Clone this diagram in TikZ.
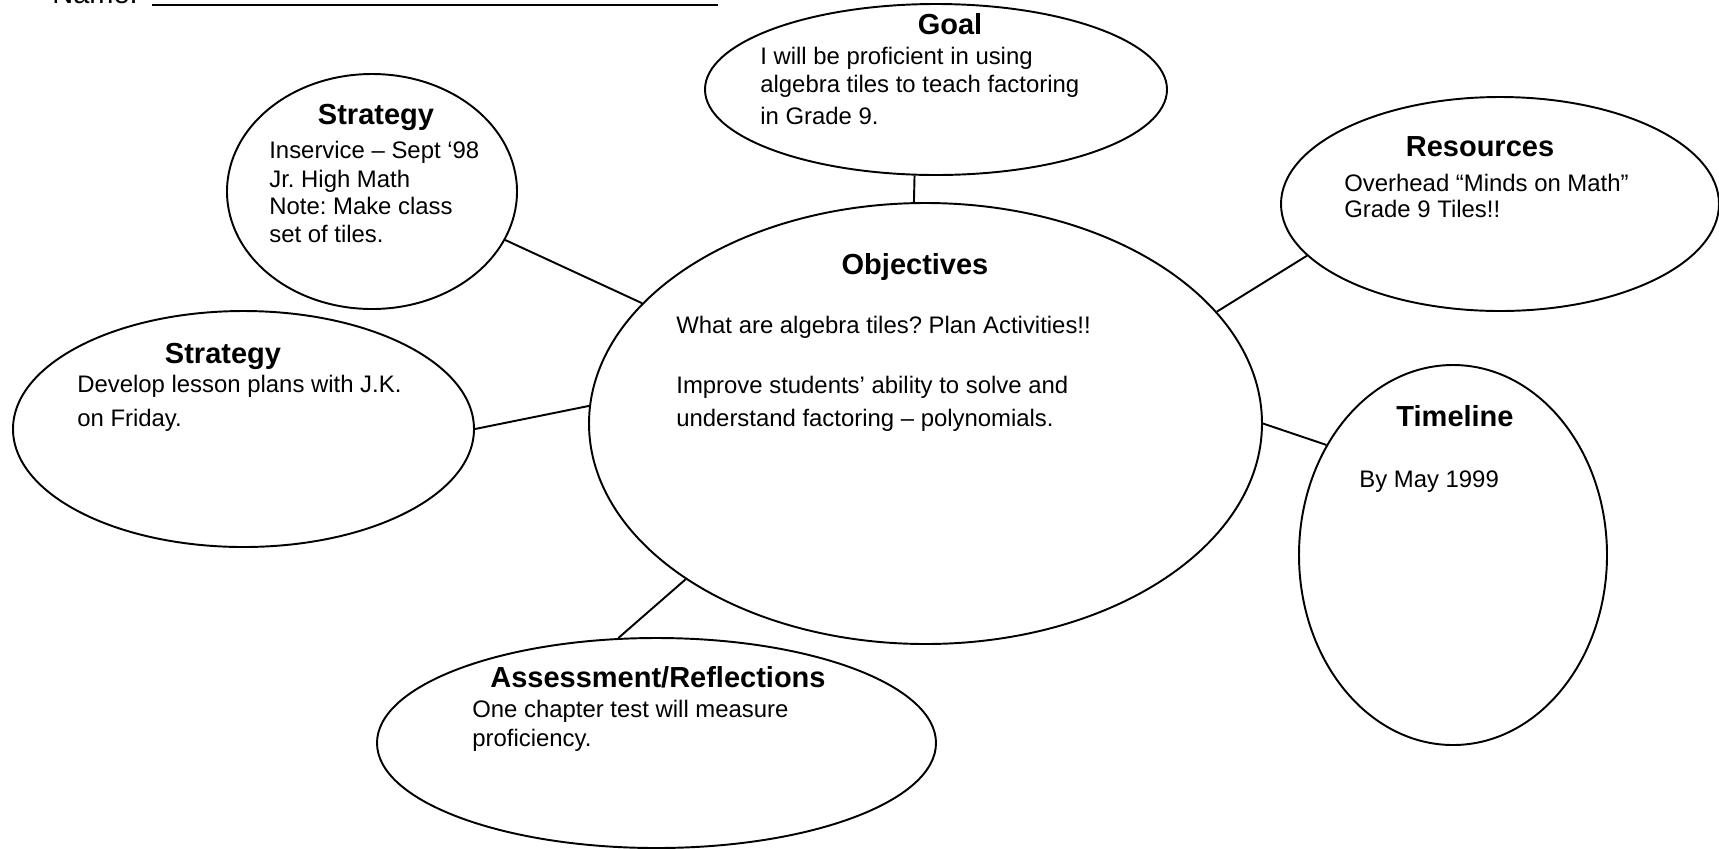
\documentclass[tikz,border=0pt]{standalone}
\usepackage{fontspec}
\setmainfont{Liberation Sans}
\usetikzlibrary{shapes.geometric}
\frenchspacing

\tikzset{
  bubble/.style={ellipse, draw, line width=1.1pt, inner sep=0pt},
  head/.style={font=\bfseries\fontsize{16.5}{19}\selectfont, inner sep=0pt, anchor=base},
  txt/.style={font=\fontsize{13.6}{16}\selectfont, inner sep=0pt, anchor=base west},
  link/.style={line width=1.1pt}
}

\begin{document}
\begin{tikzpicture}
    \useasboundingbox (0, 0) rectangle (34.38, -16.96);

    % name line at the top
    \node[txt, font=\fontsize{16.5}{19}\selectfont] (name) at (1.04, -0.06) {Name:};
    \draw[link] (3.04, -0.10) -- (14.36, -0.10);

    % bubbles
    \node[bubble, minimum width=9.24cm, minimum height=3.42cm] (goal) at (18.72, -1.79) {};
    \node[bubble, minimum width=5.80cm, minimum height=4.70cm] (stratA) at (7.44, -3.83) {};
    \node[bubble, minimum width=9.22cm, minimum height=4.72cm] (stratB) at (4.87, -8.58) {};
    \node[bubble, minimum width=13.46cm, minimum height=8.82cm] (obj) at (18.51, -8.47) {};
    \node[bubble, minimum width=8.76cm, minimum height=4.28cm] (res) at (30.00, -4.08) {};
    \node[bubble, minimum width=6.16cm, minimum height=7.60cm] (time) at (29.06, -11.10) {};
    \node[bubble, minimum width=11.18cm, minimum height=4.20cm] (assess) at (13.13, -14.86) {};

    % spokes
    \draw[link] (goal.256) -- (obj.93);
    \draw[link] (stratA.-20) -- (obj.157);
    \draw[link] (stratB.0.5) -- (obj.177.4);
    \draw[link] (res.195.5) -- (obj.21.2);
    \draw[link] (time.139.4) -- (obj.-0.6);
    \draw[link] (assess.110.3) -- (obj.213.9);

    % goal
    \node[head] (goal-h) at (19.00, -0.68) {Goal};
    \node[txt] (goal-1) at (15.20, -1.28) {I will be proficient in using};
    \node[txt] (goal-2) at (15.20, -1.84) {algebra tiles to teach factoring};
    \node[txt] (goal-3) at (15.20, -2.48) {in Grade 9.};

    % strategy (top)
    \node[head] (stratA-h) at (7.52, -2.49) {Strategy};
    \node[txt] (stratA-1) at (5.38, -3.17) {Inservice – Sept ‘98};
    \node[txt] (stratA-2) at (5.38, -3.74) {Jr. High Math};
    \node[txt] (stratA-3) at (5.38, -4.29) {Note: Make class};
    \node[txt] (stratA-4) at (5.38, -4.85) {set of tiles.};

    % strategy (left)
    \node[head] (stratB-h) at (4.46, -7.26) {Strategy};
    \node[txt] (stratB-1) at (1.54, -7.85) {Develop lesson plans with J.K.};
    \node[txt] (stratB-2) at (1.54, -8.52) {on Friday.};

    % objectives
    \node[head] (obj-h) at (18.30, -5.49) {Objectives};
    \node[txt] (obj-1) at (13.52, -6.66) {What are algebra tiles? Plan Activities!!};
    \node[txt] (obj-2) at (13.52, -7.86) {Improve students’ ability to solve and};
    \node[txt] (obj-3) at (13.52, -8.52) {understand factoring – polynomials.};

    % resources
    \node[head] (res-h) at (29.60, -3.12) {Resources};
    \node[txt] (res-1) at (26.88, -3.83) {Overhead “Minds on Math”};
    \node[txt] (res-2) at (26.88, -4.34) {Grade 9 Tiles!!};

    % timeline
    \node[head] (time-h) at (29.10, -8.52) {Timeline};
    \node[txt] (time-1) at (27.18, -9.75) {By May 1999};

    % assessment
    \node[head] (assess-h) at (13.16, -13.74) {Assessment/Reflections};
    \node[txt] (assess-1) at (9.44, -14.35) {One chapter test will measure};
    \node[txt] (assess-2) at (9.44, -14.93) {proficiency.};
\end{tikzpicture}
\end{document}
